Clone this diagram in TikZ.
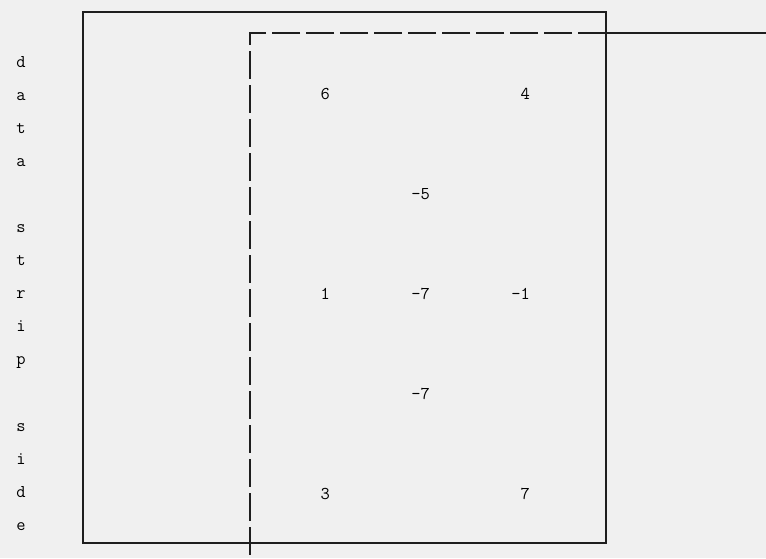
\documentclass[tikz,border=0pt]{standalone}
\definecolor{bgc}{RGB}{240,240,240}
\definecolor{inkc}{RGB}{30,30,30}
\tikzset{
  lbl/.style={font=\ttfamily\fontsize{18}{18}\selectfont, text=black, inner sep=0pt, anchor=base},
  num/.style={font=\ttfamily\fontsize{18}{18}\selectfont, text=black, inner sep=0pt, anchor=base east},
  solidline/.style={draw=inkc, line width=1.8pt},
  dashline/.style={draw=inkc, line width=1.8pt, dash pattern=on 28pt off 6pt},
}
\begin{document}
\begin{tikzpicture}[x=1pt,y=-1pt]
\fill[bgc] (0,0) rectangle (766,558);
\useasboundingbox (0,0) rectangle (766,558);
% solid frame
\coordinate (s1) at (83,12);
\coordinate (s2) at (606,543);
\draw[solidline] (s1) rectangle (s2);
% dashed frame
\coordinate (dc) at (250,33);
\coordinate (db) at (250,562);
\coordinate (dm) at (606,33);
\coordinate (dr) at (766,33);
\draw[dashline] (dm) -- (dc) -- (db);
\draw[solidline] (dm) -- (dr);
% vertical label
\foreach \ch/\k/\nm in {d/0/l1,a/1/l2,t/2/l3,a/3/l4,s/5/l5,t/6/l6,r/7/l7,i/8/l8,p/9/l9,s/11/l10,i/12/l11,d/13/l12,e/14/l13}
  \node[lbl] (\nm) at (21,{67+33.1*\k}) {\ch};
% numbers
\node[num] (n1) at (330,99) {6};
\node[num] (n2) at (530,99) {4};
\node[num] (n3) at (430,199) {-5};
\node[num] (n4) at (330,299) {1};
\node[num] (n5) at (430,299) {-7};
\node[num] (n6) at (530,299) {-1};
\node[num] (n7) at (430,399) {-7};
\node[num] (n8) at (330,499) {3};
\node[num] (n9) at (530,499) {7};
\end{tikzpicture}
\end{document}
